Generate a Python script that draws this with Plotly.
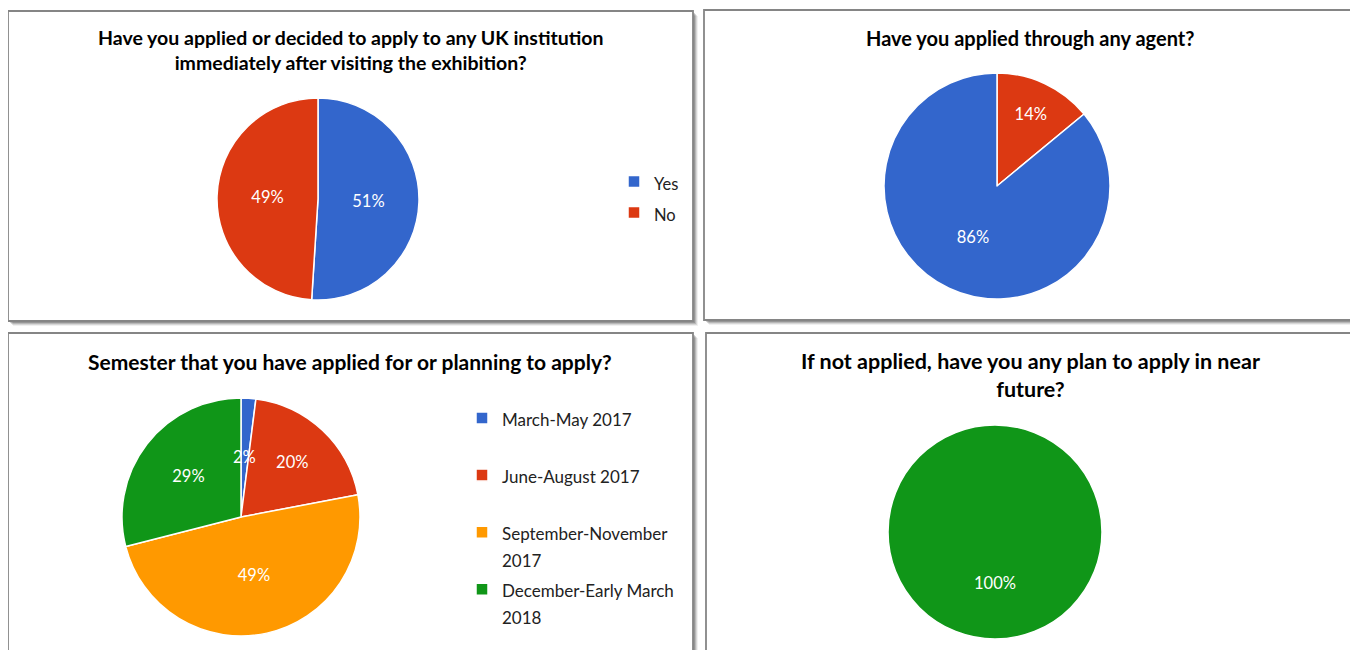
import plotly.graph_objects as go

# page body has an 8px margin, so the figure is drawn 8px in from the top-left
W, H = 1358, 650
OFF = 8
FW, FH = W - OFF, H - OFF

FONT = "Lato"
TEXT = "#222222"
LABEL_SIZE = 16.5

BLUE = "#3366CC"
RED = "#DC3912"
ORANGE = "#FF9900"
GREEN = "#109618"

# --- data ---
applied_title = "Have you applied or decided to apply to any UK institution<br>immediately after visiting the exhibition?"
applied_labels = ["Yes", "No"]
applied_values = [51, 49]

agent_title = "Have you applied through any agent?"
agent_labels = ["Yes", "No"]
agent_values = [14, 86]

semester_title = "Semester that you have applied for or planning to apply?"
semester_labels = ["March-May 2017", "June-August 2017",
                   "September-November 2017", "December-Early March 2018"]
semester_values = [2, 20, 49, 29]

plan_title = "If not applied, have you any plan to apply in near<br>future?"
plan_labels = ["Yes"]
plan_values = [100]


def px_x(x):
    return (x - OFF) / FW


def px_y(y):
    return 1 - (y - OFF) / FH


def pie_domain(cx, cy, r):
    return dict(x=[px_x(cx - r), px_x(cx + r)], y=[px_y(cy + r), px_y(cy - r)])


def legend_text(labels, size, wrap=None, lines=1):
    out = []
    for lab in labels:
        if wrap and len(lab) > wrap:
            i = lab.rfind(" ")
            lab = lab[:i] + "<br>" + lab[i + 1:]
        n = lab.count("<br>") + 1
        lab = lab + "<br> " * (lines - n)
        out.append(f'<span style="font-size:{size}px">{lab}</span>')
    return out


def pct(values, i):
    return f"{values[i] / sum(values):.0%}"


def pie(labels, values, colors, domain, legend, leg_size, wrap=None, lines=1, hide=()):
    tmpl = ["" if i in hide else "%{percent:.0%}" for i in range(len(values))]
    return go.Pie(
        labels=legend_text(labels, leg_size, wrap, lines),
        values=values,
        sort=False,
        direction="clockwise",
        rotation=0,
        domain=domain,
        legend=legend,
        marker=dict(colors=colors, line=dict(color="white", width=1.5)),
        texttemplate=tmpl,
        textposition="inside",
        insidetextorientation="horizontal",
        textfont=dict(family=FONT, size=LABEL_SIZE, color="white"),
        hoverinfo="label+percent",
    )


fig = go.Figure()
fig.add_trace(pie(applied_labels, applied_values, [BLUE, RED],
                  pie_domain(318, 199, 101), "legend", 16.5))
fig.add_trace(pie(agent_labels, agent_values, [RED, BLUE],
                  pie_domain(997, 186, 113), "legend2", 16.5))
fig.add_trace(pie(semester_labels, semester_values, [BLUE, RED, ORANGE, GREEN],
                  pie_domain(241, 517, 119), "legend3", 17, wrap=18, lines=2, hide=(0,)))
fig.add_trace(pie(plan_labels, plan_values, [GREEN],
                  pie_domain(995, 532, 107), "legend4", 16.5, hide=(0,)))

# panels with soft shadow
panels = [(8, 11, 693, 321), (704, 10, 1356, 320), (8, 333, 693, 662), (706, 333, 1356, 662)]
shapes = []
for x0, y0, x1, y1 in panels:
    for off, op in [(5, 0.06), (4, 0.10), (3, 0.14), (2, 0.18)]:
        shapes.append(dict(type="rect", xref="paper", yref="paper", layer="below",
                           x0=px_x(x0 + off), x1=px_x(x1 + off),
                           y0=px_y(y1 + off), y1=px_y(y0 + off),
                           line=dict(width=0), fillcolor=f"rgba(0,0,0,{op})"))
    shapes.append(dict(type="rect", xref="paper", yref="paper", layer="below",
                       x0=px_x(x0), x1=px_x(x1), y0=px_y(y1), y1=px_y(y0),
                       line=dict(color="#858585", width=1.8), fillcolor="white"))

titles = [(applied_title, 350, 50, 19.5), (agent_title, 1030, 38, 20),
          (semester_title, 350, 361, 21), (plan_title, 1030, 374.5, 21.5)]
annotations = [dict(text=f"<b>{t}</b>", x=px_x(x), y=px_y(y), xref="paper", yref="paper",
                    showarrow=False, xanchor="center", yanchor="middle",
                    font=dict(family=FONT, size=s, color="#000000"))
               for t, x, y, s in titles]

# labels plotly cannot place like the original: the thin 2% slice and the full 100% circle
for text, x, y in [(pct(semester_values, 0), 244, 457), (pct(plan_values, 0), 995, 583)]:
    annotations.append(dict(text=text, x=px_x(x), y=px_y(y), xref="paper", yref="paper",
                            showarrow=False, xanchor="center", yanchor="middle",
                            font=dict(family=FONT, size=LABEL_SIZE, color="white")))


def legend_box(left, top, size):
    return dict(x=px_x(left), y=px_y(top), xanchor="left", yanchor="top", valign="top",
                font=dict(family=FONT, size=size, color=TEXT),
                bgcolor="rgba(0,0,0,0)", borderwidth=0)


fig.update_layout(
    width=FW, height=FH,
    margin=dict(l=0, r=0, t=0, b=0),
    paper_bgcolor="white",
    plot_bgcolor="white",
    showlegend=True,
    legend=legend_box(614, 161, 21.5),
    legend2=legend_box(1273, 147, 22),
    legend3=legend_box(462, 398, 20.8),
    legend4=legend_box(1270, 512, 15),
    uniformtext=dict(minsize=LABEL_SIZE, mode="show"),
    shapes=shapes,
    annotations=annotations,
)

fig.write_html("out.html")
